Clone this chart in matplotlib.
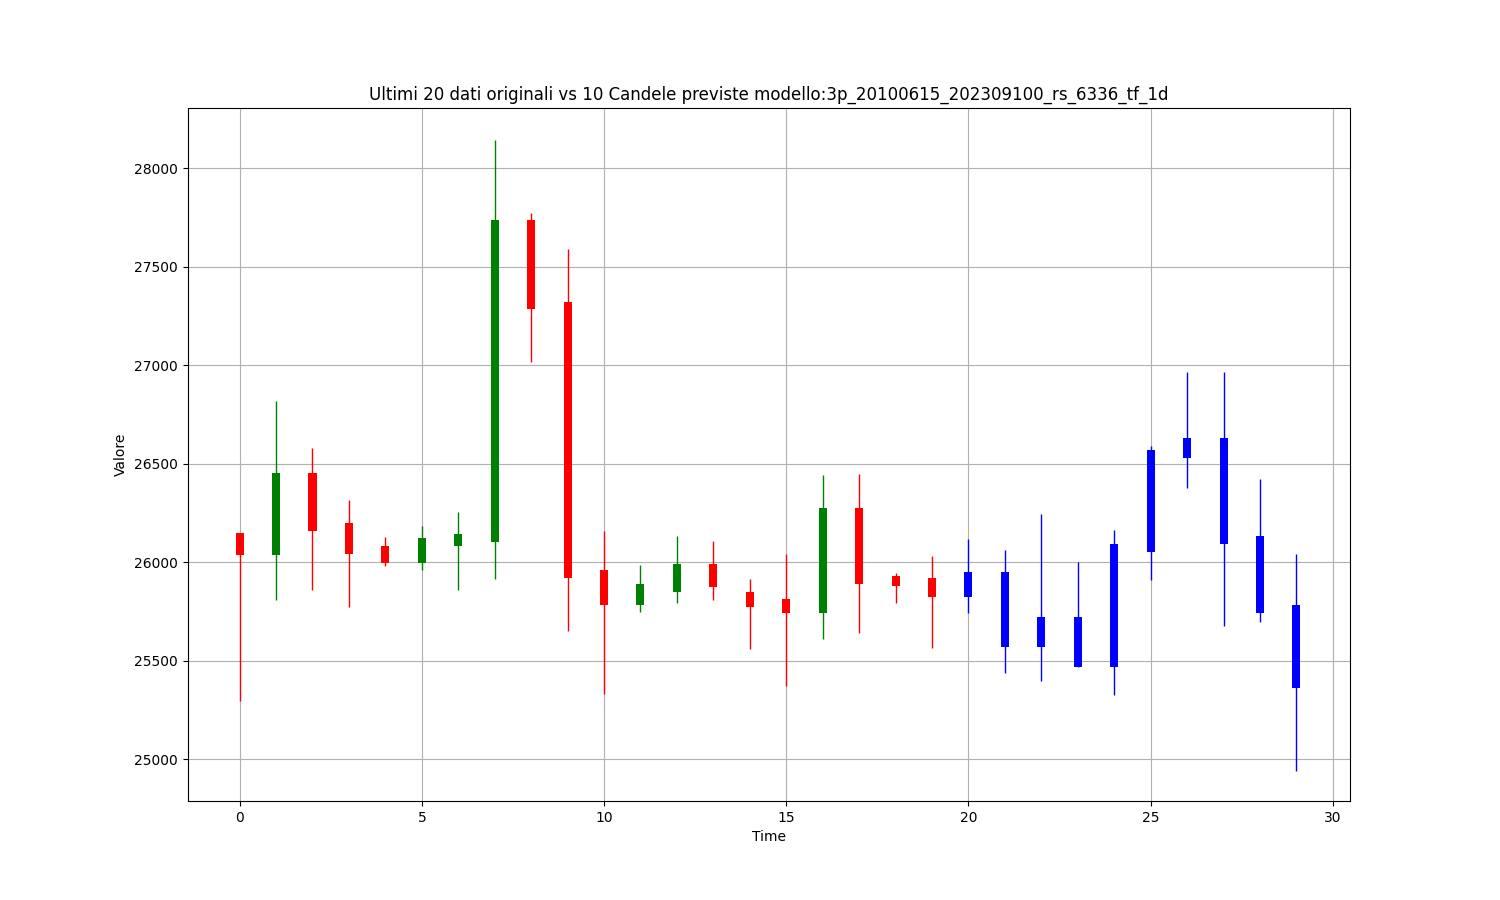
import matplotlib
matplotlib.use('Agg')
import matplotlib.pyplot as plt

# ultimi 20 dati originali + 10 candele previste
open_ = [26147, 26037, 26452, 26198, 26081, 25995, 26083, 26101, 27736, 27320,
         25959, 25783, 25848, 25990, 25848, 25812, 25741, 26274, 25929, 25919,
         25824, 25949, 25570, 25721, 25469, 26051, 26528, 26629, 26132, 25782]
close = [26037, 26452, 26157, 26042, 25995, 26122, 26142, 27736, 27284, 25920,
         25783, 25888, 25990, 25875, 25772, 25743, 26274, 25888, 25880, 25824,
         25949, 25570, 25721, 25469, 26091, 26569, 26629, 26093, 25741, 25360]
high = [26147, 26817, 26579, 26315, 26128, 26183, 26254, 28142, 27772, 27590,
        26157, 25985, 26132, 26107, 25914, 26041, 26442, 26448, 25944, 26030,
        26117, 26061, 26244, 26000, 26162, 26589, 26964, 26964, 26421, 26041]
low = [25294, 25807, 25858, 25773, 25981, 25959, 25858, 25914, 27015, 25651,
       25330, 25746, 25794, 25807, 25558, 25371, 25609, 25640, 25792, 25563,
       25743, 25438, 25397, 25469, 25327, 25909, 26377, 25675, 25695, 24939]
n_orig = 20

t = list(range(len(open_)))
colors = []
for i in t:
    if i >= n_orig:
        colors.append('blue')
    elif close[i] >= open_[i]:
        colors.append('green')
    else:
        colors.append('red')

fig, ax = plt.subplots(figsize=(15, 9), dpi=100)

ax.vlines(t, low, high, colors=colors, linewidth=1, zorder=2)
bottoms = [min(o, c) for o, c in zip(open_, close)]
heights = [abs(c - o) for o, c in zip(open_, close)]
ax.bar(t, heights, bottom=bottoms, width=0.22, color=colors, zorder=3)

ax.set_xlim(-1.43, 30.47)
ax.set_ylim(24787, 28305)
ax.grid(True)
ax.set_title('Ultimi 20 dati originali vs 10 Candele previste modello:3p_20100615_202309100_rs_6336_tf_1d')
ax.set_xlabel('Time')
ax.set_ylabel('Valore')

plt.savefig('out.png', dpi=100)
